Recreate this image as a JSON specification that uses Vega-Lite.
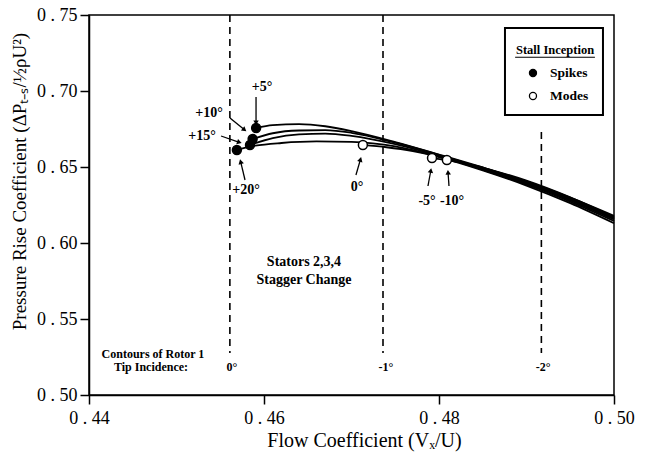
{
  "$schema": "https://vega.github.io/schema/vega-lite/v6.json",
  "width": 525,
  "height": 380,
  "autosize": "none",
  "padding": {"left": 89, "top": 15, "right": 31, "bottom": 62},
  "background": "white",
  "config": {
    "view": {"stroke": "black", "strokeWidth": 1.5},
    "axis": {
      "grid": false,
      "domainColor": "black",
      "domainWidth": 1.5,
      "tickColor": "black",
      "tickWidth": 1.5,
      "tickSize": 9,
      "labelColor": "black",
      "labelFont": "Liberation Serif",
      "labelFontSize": 18,
      "labelFlush": false,
      "labelOverlap": false,
      "titleColor": "black",
      "titleFont": "Liberation Serif",
      "titleFontSize": 19,
      "titleFontWeight": "normal"
    },
    "text": {"font": "Liberation Serif", "fontWeight": "bold", "color": "black"}
  },
  "datasets": {
    "curves": [
      {"c": "+5", "x": 0.4591, "y": 0.6757}, {"c": "+5", "x": 0.461, "y": 0.6776}, {"c": "+5", "x": 0.464, "y": 0.6782}, {"c": "+5", "x": 0.467, "y": 0.6768}, {"c": "+5", "x": 0.47, "y": 0.6736}, {"c": "+5", "x": 0.475, "y": 0.6664}, {"c": "+5", "x": 0.48, "y": 0.6582}, {"c": "+5", "x": 0.485, "y": 0.6497}, {"c": "+5", "x": 0.49, "y": 0.6405}, {"c": "+5", "x": 0.495, "y": 0.6298}, {"c": "+5", "x": 0.5, "y": 0.6178},
      {"c": "+10", "x": 0.4587, "y": 0.6684}, {"c": "+10", "x": 0.461, "y": 0.6722}, {"c": "+10", "x": 0.464, "y": 0.674}, {"c": "+10", "x": 0.467, "y": 0.6742}, {"c": "+10", "x": 0.47, "y": 0.6725}, {"c": "+10", "x": 0.475, "y": 0.666}, {"c": "+10", "x": 0.48, "y": 0.658}, {"c": "+10", "x": 0.485, "y": 0.649}, {"c": "+10", "x": 0.49, "y": 0.6395}, {"c": "+10", "x": 0.495, "y": 0.6285}, {"c": "+10", "x": 0.5, "y": 0.616},
      {"c": "+15", "x": 0.4584, "y": 0.6645}, {"c": "+15", "x": 0.461, "y": 0.669}, {"c": "+15", "x": 0.464, "y": 0.6715}, {"c": "+15", "x": 0.467, "y": 0.672}, {"c": "+15", "x": 0.47, "y": 0.6705}, {"c": "+15", "x": 0.475, "y": 0.665}, {"c": "+15", "x": 0.48, "y": 0.6572}, {"c": "+15", "x": 0.485, "y": 0.6482}, {"c": "+15", "x": 0.49, "y": 0.6385}, {"c": "+15", "x": 0.495, "y": 0.6272}, {"c": "+15", "x": 0.5, "y": 0.6145},
      {"c": "+20", "x": 0.4569, "y": 0.6612}, {"c": "+20", "x": 0.459, "y": 0.664}, {"c": "+20", "x": 0.462, "y": 0.6658}, {"c": "+20", "x": 0.466, "y": 0.6668}, {"c": "+20", "x": 0.47, "y": 0.6665}, {"c": "+20", "x": 0.475, "y": 0.6635}, {"c": "+20", "x": 0.48, "y": 0.6565}, {"c": "+20", "x": 0.485, "y": 0.6478}, {"c": "+20", "x": 0.49, "y": 0.6378}, {"c": "+20", "x": 0.495, "y": 0.6262}, {"c": "+20", "x": 0.5, "y": 0.613},
      {"c": "0", "x": 0.4713, "y": 0.6645}, {"c": "0", "x": 0.474, "y": 0.663}, {"c": "0", "x": 0.477, "y": 0.6605}, {"c": "0", "x": 0.48, "y": 0.6568}, {"c": "0", "x": 0.485, "y": 0.6485}, {"c": "0", "x": 0.49, "y": 0.639}, {"c": "0", "x": 0.495, "y": 0.628}, {"c": "0", "x": 0.5, "y": 0.6155},
      {"c": "-5", "x": 0.4792, "y": 0.6559}, {"c": "-5", "x": 0.482, "y": 0.6535}, {"c": "-5", "x": 0.485, "y": 0.6495}, {"c": "-5", "x": 0.49, "y": 0.64}, {"c": "-5", "x": 0.495, "y": 0.629}, {"c": "-5", "x": 0.5, "y": 0.6165},
      {"c": "-10", "x": 0.4809, "y": 0.6546}, {"c": "-10", "x": 0.483, "y": 0.6525}, {"c": "-10", "x": 0.486, "y": 0.648}, {"c": "-10", "x": 0.49, "y": 0.641}, {"c": "-10", "x": 0.495, "y": 0.63}, {"c": "-10", "x": 0.5, "y": 0.617}
    ],
    "stall": [
      {"c": "+20", "x": 0.4569, "y": 0.6612, "type": "Spikes"},
      {"c": "+15", "x": 0.4584, "y": 0.6645, "type": "Spikes"},
      {"c": "+10", "x": 0.4587, "y": 0.6684, "type": "Spikes"},
      {"c": "+5", "x": 0.4591, "y": 0.6757, "type": "Spikes"},
      {"c": "0", "x": 0.4713, "y": 0.6645, "type": "Modes"},
      {"c": "-5", "x": 0.4792, "y": 0.6559, "type": "Modes"},
      {"c": "-10", "x": 0.4809, "y": 0.6546, "type": "Modes"}
    ],
    "dashes": [
      {"x": 0.4561, "y": 0.75, "y2": 0.5276},
      {"x": 0.4736, "y": 0.75, "y2": 0.5276},
      {"x": 0.4917, "y": 0.673, "y2": 0.5276}
    ],
    "arrows": [
      {"x": 0.45909, "y": 0.69605, "x2": 0.45909, "y2": 0.67963, "angle": 180},
      {"x": 0.45611, "y": 0.68224, "x2": 0.45770, "y2": 0.67480, "angle": 129},
      {"x": 0.45509, "y": 0.67039, "x2": 0.45710, "y2": 0.66640, "angle": 109},
      {"x": 0.45783, "y": 0.64145, "x2": 0.45735, "y2": 0.65300, "angle": 346},
      {"x": 0.47051, "y": 0.64474, "x2": 0.47100, "y2": 0.65450, "angle": 16},
      {"x": 0.47874, "y": 0.6375, "x2": 0.47905, "y2": 0.64720, "angle": 10},
      {"x": 0.48114, "y": 0.6375, "x2": 0.48104, "y2": 0.64600, "angle": 356}
    ],
    "labels": [
      {"t": "+5°", "x": 0.45977, "y": 0.70263},
      {"t": "+10°", "x": 0.45371, "y": 0.68553},
      {"t": "+15°", "x": 0.45291, "y": 0.67039},
      {"t": "+20°", "x": 0.45794, "y": 0.63487},
      {"t": "0°", "x": 0.47063, "y": 0.63684},
      {"t": "-5°", "x": 0.47863, "y": 0.62763},
      {"t": "-10°", "x": 0.48149, "y": 0.62763},
      {"t": "Stators 2,3,4", "x": 0.46457, "y": 0.5875},
      {"t": "Stagger Change", "x": 0.46457, "y": 0.57566}
    ],
    "notes": [
      {"t": "Contours of Rotor 1", "x": 0.44731, "y": 0.52697},
      {"t": "Tip Incidence:", "x": 0.44709, "y": 0.51842},
      {"t": "0°", "x": 0.45634, "y": 0.5184},
      {"t": "-1°", "x": 0.47394, "y": 0.5184},
      {"t": "-2°", "x": 0.49189, "y": 0.5184}
    ],
    "legendbox": [{"x": 0.48754, "x2": 0.49874, "y": 0.74145, "y2": 0.68421}],
    "legenditems": [
      {"type": "Spikes", "x": 0.49074, "tx": 0.49269, "y": 0.71184},
      {"type": "Modes", "x": 0.49074, "tx": 0.49269, "y": 0.69671}
    ],
    "legendtitle": [{"t": "Stall Inception", "x": 0.49326, "y": 0.72697, "x1": 0.48870, "x2": 0.49782, "uy": 0.72220}]
  },
  "encoding": {
    "x": {"type": "quantitative", "scale": {"domain": [0.44, 0.5], "nice": false, "zero": false}},
    "y": {"type": "quantitative", "scale": {"domain": [0.5, 0.75], "nice": false, "zero": false}}
  },
  "layer": [
    {
      "data": {"name": "dashes"},
      "mark": {"type": "rule", "color": "black", "strokeWidth": 1.6, "strokeDash": [7, 5]},
      "encoding": {
        "x": {"field": "x", "type": "quantitative", "axis": {"values": [0.44, 0.46, 0.48, 0.5], "format": ".2f", "labelExpr": "replace(datum.label, '.', ' . ')", "title": "Flow Coefficient (Vₓ/U)", "titleFontSize": 20, "titleX": 275, "labelPadding": 5, "titlePadding": 3}},
        "y": {"field": "y", "type": "quantitative", "axis": {"values": [0.5, 0.55, 0.6, 0.65, 0.7, 0.75], "format": ".2f", "labelExpr": "replace(datum.label, '.', ' . ')", "title": "Pressure Rise Coefficient (ΔPₜ₋ₛ/½ρU²)", "titleY": 166, "labelPadding": 3, "titlePadding": 7}},
        "y2": {"field": "y2"}
      }
    },
    {
      "data": {"name": "curves"},
      "mark": {"type": "line", "color": "black", "strokeWidth": 1.8, "interpolate": "monotone"},
      "encoding": {
        "x": {"field": "x", "type": "quantitative"},
        "y": {"field": "y", "type": "quantitative"},
        "detail": {"field": "c"}
      }
    },
    {
      "data": {"name": "stall"},
      "mark": {"type": "point", "shape": "circle", "filled": true, "size": 80, "stroke": "black", "strokeWidth": 1.5, "opacity": 1},
      "encoding": {
        "x": {"field": "x", "type": "quantitative"},
        "y": {"field": "y", "type": "quantitative"},
        "fill": {"field": "type", "type": "nominal", "scale": {"domain": ["Spikes", "Modes"], "range": ["black", "white"]}, "legend": null}
      }
    },
    {
      "data": {"name": "arrows"},
      "mark": {"type": "rule", "color": "black", "strokeWidth": 1.3},
      "encoding": {
        "x": {"field": "x", "type": "quantitative"},
        "y": {"field": "y", "type": "quantitative"},
        "x2": {"field": "x2"},
        "y2": {"field": "y2"}
      }
    },
    {
      "data": {"name": "arrows"},
      "mark": {"type": "point", "shape": "triangle", "filled": true, "color": "black", "size": 30, "opacity": 1},
      "encoding": {
        "x": {"field": "x2", "type": "quantitative"},
        "y": {"field": "y2", "type": "quantitative"},
        "angle": {"field": "angle", "type": "quantitative", "scale": null}
      }
    },
    {
      "data": {"name": "labels"},
      "mark": {"type": "text", "fontSize": 14, "align": "center", "baseline": "middle"},
      "encoding": {
        "x": {"field": "x", "type": "quantitative"},
        "y": {"field": "y", "type": "quantitative"},
        "text": {"field": "t"}
      }
    },
    {
      "data": {"name": "notes"},
      "mark": {"type": "text", "fontSize": 12, "align": "center", "baseline": "middle"},
      "encoding": {
        "x": {"field": "x", "type": "quantitative"},
        "y": {"field": "y", "type": "quantitative"},
        "text": {"field": "t"}
      }
    },
    {
      "data": {"name": "legendbox"},
      "mark": {"type": "rect", "fill": "white", "stroke": "black", "strokeWidth": 2},
      "encoding": {
        "x": {"field": "x", "type": "quantitative"},
        "x2": {"field": "x2"},
        "y": {"field": "y", "type": "quantitative"},
        "y2": {"field": "y2"}
      }
    },
    {
      "data": {"name": "legendtitle"},
      "mark": {"type": "text", "fontSize": 12.5, "align": "center", "baseline": "middle"},
      "encoding": {
        "x": {"field": "x", "type": "quantitative"},
        "y": {"field": "y", "type": "quantitative"},
        "text": {"field": "t"}
      }
    },
    {
      "data": {"name": "legendtitle"},
      "mark": {"type": "rule", "color": "black", "strokeWidth": 1},
      "encoding": {
        "x": {"field": "x1", "type": "quantitative"},
        "x2": {"field": "x2"},
        "y": {"field": "uy", "type": "quantitative"}
      }
    },
    {
      "data": {"name": "legenditems"},
      "mark": {"type": "point", "shape": "circle", "filled": true, "size": 50, "stroke": "black", "strokeWidth": 1.3, "opacity": 1},
      "encoding": {
        "x": {"field": "x", "type": "quantitative"},
        "y": {"field": "y", "type": "quantitative"},
        "fill": {"field": "type", "type": "nominal", "scale": {"domain": ["Spikes", "Modes"], "range": ["black", "white"]}, "legend": null}
      }
    },
    {
      "data": {"name": "legenditems"},
      "mark": {"type": "text", "fontSize": 13.5, "align": "left", "baseline": "middle"},
      "encoding": {
        "x": {"field": "tx", "type": "quantitative"},
        "y": {"field": "y", "type": "quantitative"},
        "text": {"field": "type"}
      }
    }
  ]
}
